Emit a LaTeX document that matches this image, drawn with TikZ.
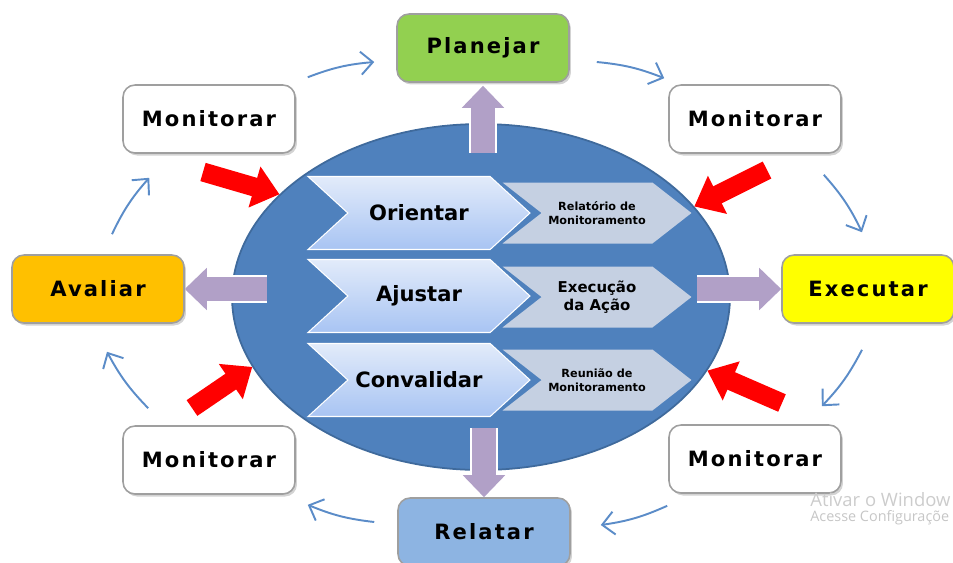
\documentclass[tikz,border=0pt]{standalone}
\usepackage{fontspec}
\setmainfont{DejaVu Sans}
\newfontfamily\boxfont[LetterSpace=10]{DejaVu Sans}
\newfontfamily\markfont{Open Sans}
\usetikzlibrary{shapes.geometric}
\usetikzlibrary{shapes.symbols}
\usetikzlibrary{arrows.meta}
\usetikzlibrary{calc}
\usetikzlibrary{shadows}
\definecolor{ellblue}{HTML}{4F81BD}
\definecolor{ellline}{HTML}{3F6A9C}
\definecolor{chevtop}{HTML}{E2EBFA}
\definecolor{chevbot}{HTML}{A8C4F3}
\definecolor{chevgray}{HTML}{C5D0E2}
\definecolor{plangreen}{HTML}{92D050}
\definecolor{avalorange}{HTML}{FFC000}
\definecolor{execyellow}{HTML}{FFFF00}
\definecolor{relblue}{HTML}{8DB4E2}
\definecolor{purp}{HTML}{B1A0C7}
\definecolor{thinblue}{HTML}{5B8CC8}
\tikzset{
    mybox/.style = {rectangle, rounded corners=0.24cm, draw=gray!75, line width=0.9pt, fill=white, minimum width=3.44cm, minimum height=1.36cm, font=\boxfont\bfseries\fontsize{12}{14}\selectfont, text=black, drop shadow={opacity=0.35, shadow xshift=0.04cm, shadow yshift=-0.05cm}},
    myboxg/.style = {mybox, fill=plangreen},
    myboxo/.style = {mybox, fill=avalorange},
    myboxy/.style = {mybox, fill=execyellow},
    myboxb/.style = {mybox, fill=relblue},
    myellipse/.style = {ellipse, minimum width=9.96cm, minimum height=6.92cm, inner sep=0pt, fill=ellblue, draw=ellline, line width=1pt},
    chevb/.style = {signal, signal from=west, signal to=east, signal pointer angle=85, minimum width=4.44cm, minimum height=1.46cm, inner sep=0pt, draw=white, line width=0.6pt, top color=chevtop, bottom color=chevbot, font=\bfseries\fontsize{12}{14}\selectfont, text=black},
    chevs/.style = {signal, signal from=west, signal to=east, signal pointer angle=76, minimum width=3.78cm, minimum height=1.22cm, inner sep=0pt, fill=chevgray, align=center, font=\bfseries\fontsize{6.4}{7.8}\selectfont, text=black},
    edgeb/.style = {thinblue, line width=1.1pt, -{Straight Barb[length=0.24cm, width=0.46cm]}},
    edger/.style = {red, line width=0.38cm, -{Triangle[length=0.52cm, width=0.82cm]}},
    edgep/.style = {purp, line width=0.48cm, -{Triangle[length=0.44cm, width=0.82cm]}, preaction={draw=white, line width=0.56cm, -{Triangle[length=0.48cm, width=0.92cm]}}},
    wmark/.style = {text=gray!40, font=\markfont\fontsize{10.5}{12}\selectfont, inner sep=0pt},
    wmarks/.style = {text=gray!45, font=\markfont\fontsize{8.2}{9}\selectfont, inner sep=0pt}
}

\begin{document}
\begin{tikzpicture}[x=0.02cm,y=-0.02cm]
%
\useasboundingbox (0,0) rectangle (953,562);
\node[myellipse] at (481,297) (circ) {};
%
\node[chevs] at (597,213) (s1) {Relatório de\\Monitoramento};
\node[chevs, font=\bfseries\fontsize{8.5}{10}\selectfont] at (597,297) (s2) {Execução\\da Ação};
\node[chevs] at (597,380) (s3) {Reunião de\\Monitoramento};
\node[chevb] at (419,213) (c1) {Orientar};
\node[chevb] at (419,296) (c2) {Ajustar};
\node[chevb] at (419,380) (c3) {Convalidar};
%
\node[myboxg] at (483,48) (plan) {Planejar};
\node[mybox] at (209,119) (mtl) {Monitorar};
\node[mybox] at (755,119) (mtr) {Monitorar};
\node[myboxo] at (98,289) (aval) {Avaliar};
\node[myboxy] at (868,289) (exec) {Executar};
\node[mybox] at (209,460) (mbl) {Monitorar};
\node[mybox] at (755,459) (mbr) {Monitorar};
\node[myboxb] at (484,532) (rel) {Relatar};
%
\node[wmark, anchor=west] at (810,500) (w1) {Ativar o Window};
\node[wmarks, anchor=west] at (810,518) (w2) {Acesse Configuraçõe};
%
\draw[edgep, shorten <=2.88cm, shorten >=0.06cm] (circ.center -| plan.south) -- (plan.south);
\draw[edgep, shorten <=4.28cm] (aval.east -| circ.center) -- (aval.east);
\draw[edgep, shorten <=4.32cm] (exec.west -| circ.center) -- (exec.west);
\draw[edgep, shorten <=2.62cm] (circ.center -| rel.north) -- (rel.north);
%
\coordinate (rtl) at (203,172);
\coordinate (rtr) at (767,170);
\coordinate (rbl) at (192,408);
\coordinate (rbr) at (782,403);
\draw[edger] (rtl) -- (circ.153.7);
\draw[edger] (rtr) -- (circ.23.4);
\draw[edger] (rbl) -- (circ.197.9);
\draw[edger] (rbr) -- (circ.342.9);
%
\draw[edgeb] ($(mtl.north east)+(12,-7)$) to[bend left=8] ($(plan.west)+(-22,14)$);
\draw[edgeb] ($(plan.east)+(27,14)$) to[bend left=8] ($(mtr.north west)+(-4,-6)$);
\draw[edgeb] ($(mtr.south east)+(-18,21)$) to[bend left=8] ($(exec.north)+(-6,-22)$);
\draw[edgeb] ($(exec.south)+(-6,26)$) to[bend left=8] ($(mbr.north east)+(-20,-18)$);
\draw[edgeb] ($(mbr.south west)+(-1,12)$) to[bend left=8] ($(rel.east)+(30,-7)$);
\draw[edgeb] ($(rel.west)+(-23,-10)$) to[bend left=8] ($(mbl.south east)+(12,10)$);
\draw[edgeb] ($(mbl.north west)+(26,-17)$) to[bend left=8] ($(aval.south)+(9,28)$);
\draw[edgeb] ($(aval.north)+(14,-20)$) to[bend left=8] ($(mtl.south west)+(27,24)$);

\end{tikzpicture}
\end{document}
